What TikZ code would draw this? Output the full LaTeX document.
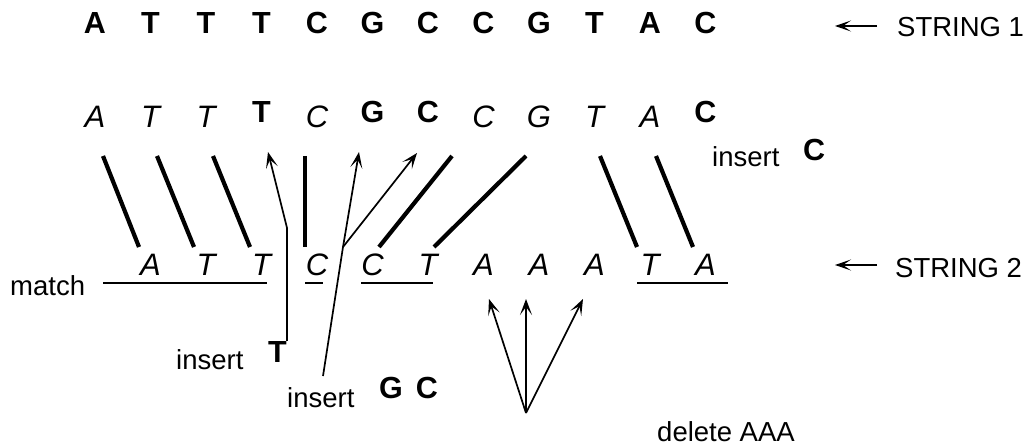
\documentclass[tikz,border=0pt]{standalone}
\usepackage{fontspec}
\setmainfont{Liberation Sans}
\usetikzlibrary{arrows.meta}
\begin{document}
\begin{tikzpicture}[x=1pt,y=-1pt,
  every node/.style={inner sep=0pt, anchor=base, font=\fontsize{27.5}{30}\selectfont},
  bl/.style={font=\fontsize{30.5}{33}\selectfont\bfseries},
  it/.style={font=\fontsize{31}{34}\selectfont\itshape},
  lbl/.style={anchor=base west},
  thickln/.style={line width=4.2pt},
  thinarr/.style={line width=1.7pt, -{Stealth[length=16pt,width=12pt,inset=8pt]}},
  strarr/.style={line width=1.7pt, -{Stealth[length=16pt,width=11pt,inset=8pt]}},
  uline/.style={line width=1.6pt}]
\useasboundingbox (0,0) rectangle (1027,446);

% STRING 1 (top row)
\foreach \l [count=\i from 0] in {A,T,T,T,C,G,C,C,G,T,A,C}
  \node[bl] (s1-\i) at ({95+55.5*\i},34) {\l};
\node[lbl] (lab1) at (897,37) {STRING 1};
\coordinate (a1s) at (877,26);
\coordinate (a1e) at (835,26);
\draw[strarr] (a1s) -- (a1e);

% Row 2 (aligned string 1)
\node[it] (r2-0)  at (95,128)    {A};
\node[it] (r2-1)  at (150.5,128) {T};
\node[it] (r2-2)  at (206,128)   {T};
\node[bl] (r2-3)  at (261.5,123) {T};
\node[it] (r2-4)  at (317,128)   {C};
\node[bl] (r2-5)  at (372.5,123) {G};
\node[bl] (r2-6)  at (428,123)   {C};
\node[it] (r2-7)  at (483.5,128) {C};
\node[it] (r2-8)  at (539,128)   {G};
\node[it] (r2-9)  at (594.5,128) {T};
\node[it] (r2-10) at (650,128)   {A};
\node[bl] (r2-11) at (705.5,123) {C};

% Row 3 (string 2)
\foreach \l [count=\i from 1] in {A,T,T,C,C,T,A,A,A,T,A}
  \node[it] (r3-\i) at ({95+55.5*\i},275) {\l};
\node[lbl] (lab2) at (895,277) {STRING 2};
\coordinate (a2s) at (877,265);
\coordinate (a2e) at (835,265);
\draw[strarr] (a2s) -- (a2e);

% thick match lines
\coordinate (t1) at (103,156); \coordinate (b1) at (139,247);
\coordinate (t2) at (157,156); \coordinate (b2) at (194,247);
\coordinate (t3) at (213,156); \coordinate (b3) at (250,247);
\coordinate (t4) at (305,156); \coordinate (b4) at (305,247);
\coordinate (t5) at (452,156); \coordinate (b5) at (379,247);
\coordinate (t6) at (526,156); \coordinate (b6) at (434,247);
\coordinate (t7) at (600,156); \coordinate (b7) at (637,247);
\coordinate (t8) at (656,156); \coordinate (b8) at (693,247);
\foreach \k in {1,...,8} \draw[thickln] (t\k) -- (b\k);

% match underlines
\node[lbl] (match) at (10,295) {match};
\coordinate (u1a) at (103,283); \coordinate (u1b) at (267,283);
\coordinate (u2a) at (305,283); \coordinate (u2b) at (323,283);
\coordinate (u3a) at (361,283); \coordinate (u3b) at (433,283);
\coordinate (u4a) at (637,283); \coordinate (u4b) at (728,283);
\foreach \k in {1,...,4} \draw[uline] (u\k a) -- (u\k b);

% insert T
\node[lbl] (ins1) at (176,369) {insert};
\node[bl,anchor=base west] (insT) at (268,362) {T};
\coordinate (tb) at (287,228);
\coordinate (tt) at (268,152);
\draw[thinarr] (insT.north east -| tb) -- (tb) -- (tt);

% insert G C
\node[lbl] (ins2) at (287,407) {insert};
\node[bl] (insG) at (391,398) {G};
\node[bl] (insC) at (427,398) {C};
\coordinate (gs) at (323,376);
\coordinate (gbr) at (343,247);
\coordinate (gt) at (359,152);
\coordinate (ct) at (417,153);
\draw[thinarr] (gs) -- (gbr) -- (gt);
\draw[thinarr] (gbr) -- (ct);

% insert C (right)
\node[lbl] (ins3) at (712,167) {insert};
\node[bl,anchor=base west] (insC2) at (803,161) {C};

% delete AAA
\node[lbl] (del) at (657,441) {delete AAA};
\coordinate (db) at (526,413);
\coordinate (d1) at (489,299);
\coordinate (d2) at (526,299);
\coordinate (d3) at (583,299);
\foreach \k in {1,2,3} \draw[thinarr] (db) -- (d\k);
\end{tikzpicture}
\end{document}
